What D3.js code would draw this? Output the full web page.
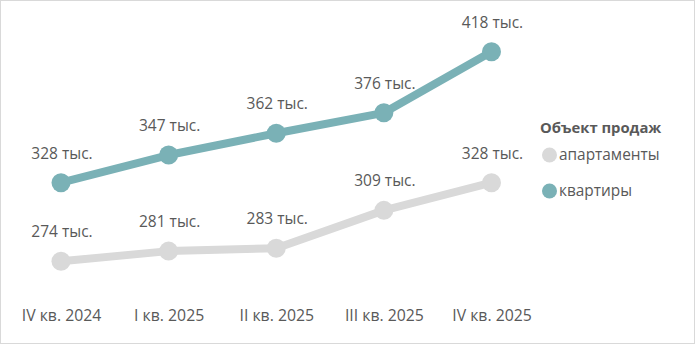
<!DOCTYPE html>
<html><head><meta charset="utf-8">
<script src="https://cdn.jsdelivr.net/npm/d3@7"></script>
<style>
html,body{margin:0;padding:0;background:#fff;}
svg{display:block;font-family:"Open Sans","Noto Sans",sans-serif;}
</style></head>
<body>
<svg id="chart" width="695" height="344"></svg>
<script>
const categories = ["IV кв. 2024","I кв. 2025","II кв. 2025","III кв. 2025","IV кв. 2025"];
const apartments = [274, 281, 283, 309, 328];
const flats = [328, 347, 362, 376, 418];
const seriesNames = ["апартаменты","квартиры"];
const legendTitle = "Объект продаж";
const unit = " тыс.";

const colors = {"апартаменты":"#d9d9d9","квартиры":"#7ab1b6"};
const textColor = "#595959";

const svg = d3.select("#chart");
svg.append("rect").attr("x",0.5).attr("y",0.5).attr("width",694).attr("height",343)
  .attr("fill","#fff").attr("stroke","#d9d9d9");

const x = d3.scalePoint().domain(categories).range([61, 491.5]);
const y = d3.scaleLinear().domain([328, 418]).range([182.7, 51.7]);

const series = [
  {name:"апартаменты", values:apartments},
  {name:"квартиры", values:flats}
];

const line = d3.line().x((d,i)=>x(categories[i])).y(d=>y(d));

const g = svg.append("g");
series.forEach(s=>{
  g.append("path").datum(s.values).attr("d",line)
    .attr("fill","none").attr("stroke",colors[s.name]).attr("stroke-width",8)
    .attr("stroke-linejoin","round");
  g.selectAll(null).data(s.values).enter().append("circle")
    .attr("cx",(d,i)=>x(categories[i])).attr("cy",d=>y(d)).attr("r",9.5)
    .attr("fill",colors[s.name]);
  g.selectAll(null).data(s.values).enter().append("text")
    .attr("x",(d,i)=>x(categories[i])+1).attr("y",d=>y(d)-24)
    .attr("text-anchor","middle").attr("font-size",15.5).attr("fill",textColor)
    .text(d=>d+unit);
});

// x axis labels
const xAxis = d3.axisBottom(x).tickSize(0).tickPadding(0);
const ax = svg.append("g").attr("transform","translate(0,310)").call(xAxis);
ax.select(".domain").remove();
ax.selectAll("text").attr("font-size",15.8).attr("fill",textColor)
  .attr("font-family","\"Open Sans\",\"Noto Sans\",sans-serif").attr("dy","0.71em");

// legend
const lg = svg.append("g");
lg.append("text").attr("x",540).attr("y",133).attr("font-size",14.8).attr("font-weight","bold")
  .attr("fill",textColor).text(legendTitle);
seriesNames.forEach((n,i)=>{
  const cy = 155 + i*36;
  lg.append("circle").attr("cx",549.5).attr("cy",cy).attr("r",7.5).attr("fill",colors[n]);
  lg.append("text").attr("x",559).attr("y",cy+5).attr("font-size",15.4).attr("fill",textColor).text(n);
});
</script>
</body></html>
